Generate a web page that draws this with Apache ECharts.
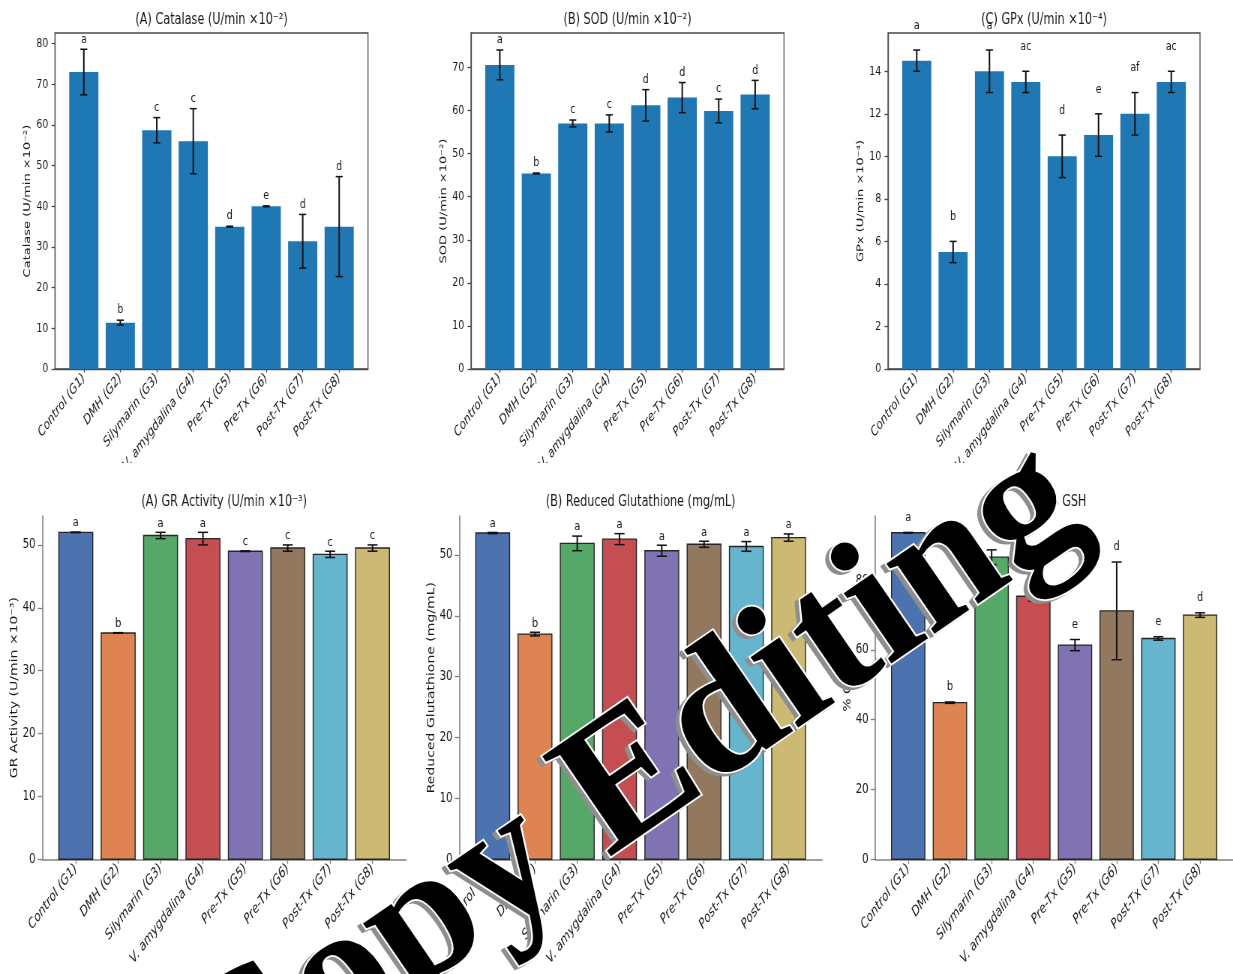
<!DOCTYPE html>
<html>
<head>
<meta charset="utf-8">
<script src="https://cdn.jsdelivr.net/npm/echarts@6/dist/echarts.min.js"></script>
<style>
  html, body { margin: 0; padding: 0; background: #fff; overflow: hidden; }
  #wrap { width: 1233px; height: 974px; overflow: hidden; position: relative; background: #fff; }
  /* the figure is drawn wide and compressed horizontally */
  #chart { width: 1644px; height: 974px; transform: scaleX(0.75); transform-origin: 0 0; }
</style>
</head>
<body>
<div id="wrap"><div id="chart"></div></div>
<script>
// ---- data ----
const categories = ['Control (G1)', 'DMH (G2)', 'Silymarin (G3)', 'V. amygdalina (G4)',
                    'Pre-Tx (G5)', 'Pre-Tx (G6)', 'Post-Tx (G7)', 'Post-Tx (G8)'];

const catalaseMean = [73.0, 11.4, 58.7, 56.0, 35.0, 40.0, 31.4, 35.0];
const catalaseErr  = [5.6, 0.6, 3.1, 8.0, 0.1, 0.1, 6.6, 12.3];
const catalaseSig  = ['a', 'b', 'c', 'c', 'd', 'e', 'd', 'd'];
const catalaseTicks = [0, 10, 20, 30, 40, 50, 60, 70, 80];

const sodMean = [70.6, 45.4, 57.0, 57.0, 61.2, 63.0, 59.9, 63.7];
const sodErr  = [3.45, 0.1, 0.8, 2.0, 3.65, 3.5, 2.75, 3.3];
const sodSig  = ['a', 'b', 'c', 'c', 'd', 'd', 'c', 'd'];
const sodTicks = [0, 10, 20, 30, 40, 50, 60, 70];

const gpxMean = [14.5, 5.5, 14.0, 13.5, 10.0, 11.0, 12.0, 13.5];
const gpxErr  = [0.5, 0.5, 1.0, 0.5, 1.0, 1.0, 1.0, 0.5];
const gpxSig  = ['a', 'b', 'a', 'ac', 'd', 'e', 'af', 'ac'];
const gpxTicks = [0, 2, 4, 6, 8, 10, 12, 14];

const grMean = [52.0, 36.0, 51.5, 51.0, 49.0, 49.5, 48.5, 49.5];
const grErr  = [0.05, 0.05, 0.5, 1.0, 0.05, 0.5, 0.5, 0.5];
const grSig  = ['a', 'b', 'a', 'a', 'c', 'c', 'c', 'c'];
const grTicks = [0, 10, 20, 30, 40, 50];

const gshMean = [53.6, 37.0, 51.9, 52.6, 50.7, 51.75, 51.4, 52.85];
const gshErr  = [0.1, 0.3, 1.2, 0.9, 0.9, 0.5, 0.8, 0.6];
const gshSig  = ['a', 'b', 'a', 'a', 'a', 'a', 'a', 'a'];
const gshTicks = [0, 10, 20, 30, 40, 50];

const pctGshMean = [93.6, 44.9, 86.6, 75.4, 61.4, 71.2, 63.3, 70.0];
const pctGshErr  = [0.1, 0.2, 2.1, 1.4, 1.6, 14.0, 0.5, 0.65];
const pctGshSig  = ['a', 'b', 'c', 'd', 'e', 'd', 'e', 'd'];
const pctGshTicks = [0, 20, 40, 60, 80];

// ---- styling ----
const SX = 0.75;                       // horizontal compression of the canvas
const FONT = "'DejaVu Sans', 'Noto Sans', sans-serif";
const INK = '#1a1a1a';
const TAB_BLUE = '#1f77b4';
const DEEP = ['#4C72B0', '#DD8452', '#55A868', '#C44E52', '#8172B3', '#937860', '#64B5CD', '#CCB974'];
const XPOS = categories.map((c, i) => i);

// box = [left, right, top, bottom] in page pixels
const panels = [
  { title: '(A) Catalase (U/min ×10⁻²)', ylabel: 'Catalase (U/min ×10⁻²)',
    mean: catalaseMean, err: catalaseErr, sig: catalaseSig, ticks: catalaseTicks, ymax: 82.6,
    box: [55, 368, 33, 369], row: 'top', lift: 10, titleY: 20 },
  { title: '(B) SOD (U/min ×10⁻²)', ylabel: 'SOD (U/min ×10⁻²)',
    mean: sodMean, err: sodErr, sig: sodSig, ticks: sodTicks, ymax: 78.0,
    box: [471, 784, 33, 369], row: 'top', lift: 10, titleY: 20 },
  { title: '(C) GPx (U/min ×10⁻⁴)', ylabel: 'GPx (U/min ×10⁻⁴)',
    mean: gpxMean, err: gpxErr, sig: gpxSig, ticks: gpxTicks, ymax: 15.8,
    box: [888, 1200, 33, 369], row: 'top', lift: 24.5, titleY: 20 },
  { title: '(A) GR Activity (U/min ×10⁻³)', ylabel: 'GR Activity (U/min ×10⁻³)',
    mean: grMean, err: grErr, sig: grSig, ticks: grTicks, ymax: 54.6,
    box: [42.3, 406, 516, 859.3], row: 'bottom', lift: 9, titleY: 502 },
  { title: '(B) Reduced Glutathione (mg/mL)', ylabel: 'Reduced Glutathione (mg/mL)',
    mean: gshMean, err: gshErr, sig: gshSig, ticks: gshTicks, ymax: 56.4,
    box: [459.3, 822, 516, 859.3], row: 'bottom', lift: 9, titleY: 502 },
  { title: '(C) % GSH', ylabel: '% GSH',
    mean: pctGshMean, err: pctGshErr, sig: pctGshSig, ticks: pctGshTicks, ymax: 98.4,
    box: [875.3, 1238.8, 516, 859.3], row: 'bottom', lift: 15, titleY: 502 }
];

function rowStyle(p) {
  return p.row === 'top'
    ? { spine: '#4a4a4a', spineW: 1.3, tickLen: 3.5, capW: 7, tickFont: 12.5, xFont: 13.5, yFont: 13, sigFont: 12.5, edge: null }
    : { spine: '#808080', spineW: 1.6, tickLen: 4.5, capW: 10, tickFont: 13.5, xFont: 14, yFont: 14, sigFont: 13, edge: '#262626' };
}

function renderBar(p) {
  const st = rowStyle(p);
  return function (params, api) {
    const i = api.value(0), m = api.value(1), e = api.value(2);
    const base = api.coord([i, 0]);
    const top = api.coord([i, m]);
    const hi = api.coord([i, m + e]);
    const lo = api.coord([i, m - e]);
    const w = api.size([0.8, 0])[0];
    const cap = st.capW / SX / 2;
    const fill = p.row === 'top' ? TAB_BLUE : DEEP[params.dataIndex % DEEP.length];
    const barStyle = st.edge ? { fill: fill, stroke: st.edge, lineWidth: 1.4 } : { fill: fill };
    return {
      type: 'group',
      children: [
        { type: 'rect', shape: { x: base[0] - w / 2, y: top[1], width: w, height: base[1] - top[1] }, style: barStyle },
        { type: 'line', shape: { x1: hi[0], y1: hi[1], x2: lo[0], y2: lo[1] }, style: { stroke: '#111', lineWidth: 2 } },
        { type: 'line', shape: { x1: hi[0] - cap, y1: hi[1], x2: hi[0] + cap, y2: hi[1] }, style: { stroke: '#111', lineWidth: 1.5 } },
        { type: 'line', shape: { x1: lo[0] - cap, y1: lo[1], x2: lo[0] + cap, y2: lo[1] }, style: { stroke: '#111', lineWidth: 1.5 } },
        { type: 'text', x: hi[0], y: hi[1] - p.lift,
          style: { text: p.sig[params.dataIndex], align: 'center', verticalAlign: 'middle',
                   fontSize: st.sigFont, fontFamily: FONT, fill: INK } }
      ]
    };
  };
}

const grids = panels.map(p => ({
  left: p.box[0] / SX,
  width: (p.box[1] - p.box[0]) / SX,
  top: p.box[2],
  height: p.box[3] - p.box[2],
  show: p.row === 'top',
  borderColor: rowStyle(p).spine,
  borderWidth: rowStyle(p).spineW,
  containLabel: false
}));

const xAxes = panels.map((p, i) => {
  const st = rowStyle(p);
  return {
    gridIndex: i, type: 'value', min: -0.79, max: 7.79,
    axisLine: { show: true, onZero: false, lineStyle: { color: st.spine, width: st.spineW } },
    axisTick: { show: true, customValues: XPOS, length: st.tickLen, lineStyle: { color: st.spine, width: 1.3 } },
    axisLabel: { customValues: XPOS, formatter: v => categories[Math.round(v)], rotate: 45,
                 fontStyle: 'italic', fontSize: st.xFont, fontFamily: FONT, color: INK, margin: 7 },
    splitLine: { show: false }
  };
});

const yAxes = panels.map((p, i) => {
  const st = rowStyle(p);
  return {
    gridIndex: i, type: 'value', min: 0, max: p.ymax,
    axisLine: { show: true, onZero: false, lineStyle: { color: st.spine, width: st.spineW } },
    axisTick: { show: true, customValues: p.ticks, length: st.tickLen / SX, lineStyle: { color: st.spine, width: 1.3 } },
    axisLabel: { customValues: p.ticks, fontSize: st.tickFont, fontFamily: FONT, color: INK, margin: 9 },
    splitLine: { show: false },
    name: p.ylabel, nameLocation: 'middle', nameRotate: 90, nameGap: 30,
    nameTextStyle: { fontSize: st.yFont, fontFamily: FONT, color: INK }
  };
});

const series = panels.map((p, i) => ({
  type: 'custom',
  xAxisIndex: i, yAxisIndex: i,
  clip: false,
  renderItem: renderBar(p),
  encode: { x: 0, y: 1 },
  data: p.mean.map((m, k) => [k, m, p.err[k]])
}));

const titles = panels.map(p => ({
  type: 'text', z: 10,
  x: (p.box[0] + p.box[1]) / 2 / SX, y: p.titleY,
  style: { text: p.title, align: 'center', verticalAlign: 'middle', fontSize: 15, fontFamily: FONT, fill: INK }
}));

// overlay stamp across the lower half
const stampText = 'Copy Editing';
const stampFont = { fontSize: 185, fontFamily: "'Liberation Serif', 'DejaVu Serif', serif", fontWeight: 'bold' };
const stampAngle = 34.5 * Math.PI / 180;
const stampX = 630, stampY = 785;
const stamp = {
  type: 'group', x: 0, y: 0, scaleX: 1 / SX, z: 100,
  children: [
    { type: 'text', x: stampX - 4, y: stampY + 3, rotation: stampAngle, z: 100,
      style: Object.assign({ text: stampText, align: 'center', verticalAlign: 'middle',
        fill: '#8e8e8e', stroke: '#8e8e8e', lineWidth: 3 }, stampFont) },
    { type: 'text', x: stampX, y: stampY, rotation: stampAngle, z: 101,
      style: Object.assign({ text: stampText, align: 'center', verticalAlign: 'middle',
        fill: '#000', stroke: '#fff', lineWidth: 3.5, strokeFirst: true }, stampFont) }
  ]
};

// the upper figure ends just below its category labels
const band = { type: 'rect', z: 50, shape: { x: 0, y: 463, width: 1644, height: 20 }, style: { fill: '#fff' } };

const chart = echarts.init(document.getElementById('chart'), null, { renderer: 'canvas' });
chart.setOption({
  animation: false,
  backgroundColor: '#fff',
  grid: grids,
  xAxis: xAxes,
  yAxis: yAxes,
  series: series,
  graphic: { elements: titles.concat([band, stamp]) }
});
</script>
</body>
</html>
